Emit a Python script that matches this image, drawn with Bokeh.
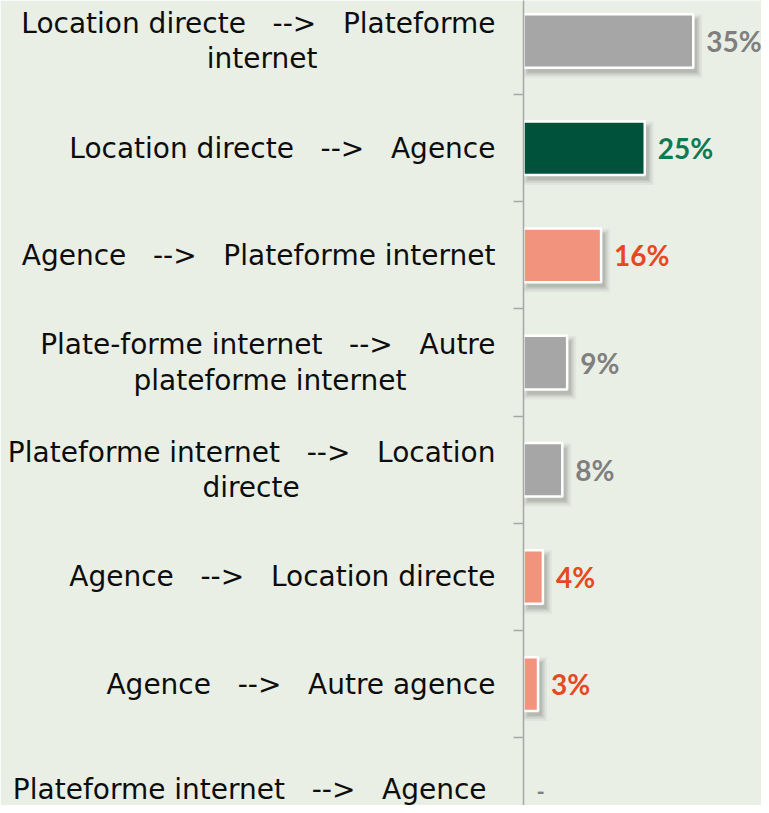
from bokeh.plotting import figure
from bokeh.models import Range1d, FixedTicker, ColumnDataSource
from bokeh.embed import file_html
from bokeh.resources import INLINE
from bokeh.core.properties import value

NB = "\u00a0"
G = NB * 3  # gap around the arrow

# ---------------- data ----------------
categories = [
    "Location directe" + G + "-->" + G + "Plateforme\ninternet" + NB * 20,
    "Location directe" + G + "-->" + G + "Agence",
    "Agence" + G + "-->" + G + "Plateforme internet",
    "Plate-forme internet" + G + "-->" + G + "Autre\nplateforme internet" + NB * 10,
    "Plateforme internet" + G + "-->" + G + "Location\ndirecte" + NB * 22,
    "Agence" + G + "-->" + G + "Location directe",
    "Agence" + G + "-->" + G + "Autre agence",
    "Plateforme internet" + G + "-->" + G + "Agence" + NB,
]
values = [35, 25, 16, 9, 8, 4, 3, 0]
value_labels = ["35%", "25%", "16%", "9%", "8%", "4%", "3%", "-"]

# ---------------- styles ----------------
BG = "#EAEFE6"
GRAY, GREEN, SALMON = "#A6A6A6", "#00533A", "#F2937D"
LGRAY, LGREEN, LRED = "#7F7F7F", "#0E7A52", "#E8481F"
bar_colors = [GRAY, GREEN, SALMON, GRAY, GRAY, SALMON, SALMON, GRAY]
label_colors = [LGRAY, LGREEN, LRED, LGRAY, LGRAY, LRED, LRED, LGRAY]
label_sizes = ["28px" if v > 0 else "22px" for v in values]

ypos = list(range(len(categories)))
W, H = 761, 805
LEFT = 523
X_END = 49.07
Y_TOP, Y_BOT = -0.378, 7.132
px_x = (W - LEFT) / X_END
px_y = H / (Y_BOT - Y_TOP)

p = figure(width=W, height=H, x_range=Range1d(0, X_END), y_range=Range1d(Y_BOT, Y_TOP),
           output_backend="svg", toolbar_location=None, x_axis_location=None,
           min_border_left=LEFT, min_border_right=0, min_border_top=0, min_border_bottom=0)
p.background_fill_color = BG
p.border_fill_color = BG
p.outline_line_color = None
p.grid.visible = False

# bars (non-zero)
nz = [i for i, v in enumerate(values) if v > 0]
src = ColumnDataSource(dict(
    y=[ypos[i] for i in nz],
    right=[values[i] for i in nz],
    color=[bar_colors[i] for i in nz],
))

# soft shadow layers
for k, a in [(7, 0.06), (5, 0.08), (3.5, 0.10), (2, 0.12)]:
    dx = 4 / px_x
    dy = 5 / px_y
    grow_x = (k - 2) / px_x
    sh = ColumnDataSource(dict(
        y=[ypos[i] + dy for i in nz],
        left=[dx - grow_x for i in nz],
        right=[values[i] + dx + grow_x for i in nz],
    ))
    p.hbar(y="y", left="left", right="right", height=0.5 + 2 * (k - 2) / px_y,
           source=sh, fill_color="#4A4A4A", fill_alpha=a, line_color=None)

p.hbar(y="y", left=0, right="right", height=0.5, source=src,
       fill_color="color", line_color="white", line_width=2.5)

lsrc = ColumnDataSource(dict(x=values, y=ypos, text=value_labels,
                             color=label_colors, size=label_sizes))
p.text(x="x", y="y", text="text", source=lsrc, x_offset=13, text_baseline="middle",
       text_align="left", text_font=value("Lato"), text_font_style="bold",
       text_font_size="size", text_color="color")

ax = p.yaxis[0]
ax.ticker = FixedTicker(ticks=ypos, minor_ticks=[i + 0.5 for i in ypos[:-1]])
ax.major_label_overrides = {i: c for i, c in zip(ypos, categories)}
ax.major_tick_line_color = None
ax.major_tick_out = 0
ax.major_tick_in = 0
ax.minor_tick_out = 10
ax.minor_tick_in = 0
ax.minor_tick_line_color = GRAY
ax.minor_tick_line_width = 1.5
ax.axis_line_color = GRAY
ax.axis_line_width = 1.5
ax.major_label_standoff = 18
ax.major_label_text_font = "DejaVu Sans"
ax.major_label_text_font_size = "28px"
ax.major_label_text_color = "#0D0D0D"
ax.major_label_text_line_height = 1.075

open("out.html", "w").write(file_html(p, INLINE))
